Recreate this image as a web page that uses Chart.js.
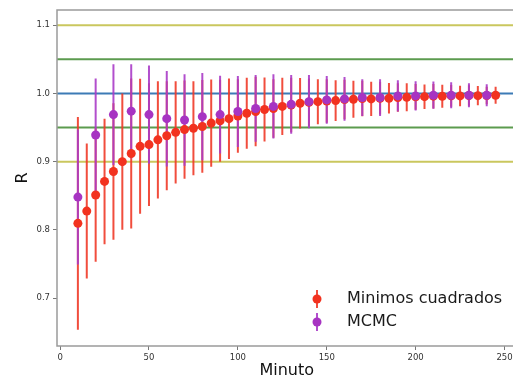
<!DOCTYPE html>
<html>
<head>
<meta charset="utf-8">
<script src="https://cdn.jsdelivr.net/npm/chart.js@4/dist/chart.umd.min.js"></script>
<style>
  html, body { margin: 0; padding: 0; overflow: hidden; background: #fff; width: 513px; height: 378px; }
</style>
</head>
<body>
<canvas id="chart" width="521" height="378"></canvas>
<script>
// Minimos cuadrados (every 5 min)
const minutosLS = [10, 15, 20, 25, 30, 35, 40, 45, 50, 55, 60, 65, 70, 75, 80, 85, 90, 95, 100, 105,
  110, 115, 120, 125, 130, 135, 140, 145, 150, 155, 160, 165, 170, 175, 180, 185, 190, 195, 200, 205,
  210, 215, 220, 225, 230, 235, 240, 245];
const valoresLS = [0.8095, 0.8275, 0.851, 0.871, 0.8855, 0.900, 0.912, 0.9224, 0.925, 0.932,
  0.938, 0.943, 0.947, 0.949, 0.9516, 0.9565, 0.960, 0.963, 0.967, 0.971,
  0.9735, 0.9764, 0.978, 0.981, 0.983, 0.9857, 0.987, 0.988, 0.989, 0.9895,
  0.991, 0.9915, 0.9925, 0.992, 0.993, 0.993, 0.994, 0.9945, 0.995, 0.9953,
  0.996, 0.9959, 0.9965, 0.9964, 0.997, 0.9968, 0.997, 0.9974];
const erroresLS = [0.156, 0.099, 0.098, 0.092, 0.100, 0.100, 0.110, 0.099, 0.090, 0.086,
  0.080, 0.075, 0.072, 0.069, 0.068, 0.064, 0.060, 0.059, 0.054, 0.052,
  0.051, 0.047, 0.043, 0.042, 0.040, 0.037, 0.035, 0.033, 0.032, 0.030,
  0.029, 0.027, 0.026, 0.025, 0.024, 0.0225, 0.021, 0.0205, 0.019, 0.018,
  0.018, 0.017, 0.016, 0.015, 0.015, 0.014, 0.013, 0.0125];

// MCMC (every 10 min)
const minutosMCMC = [10, 20, 30, 40, 50, 60, 70, 80, 90, 100, 110, 120, 130, 140, 150, 160,
  170, 180, 190, 200, 210, 220, 230, 240];
const valoresMCMC = [0.848, 0.939, 0.969, 0.974, 0.969, 0.963, 0.961, 0.966, 0.969, 0.9735,
  0.978, 0.981, 0.984, 0.988, 0.9905, 0.992, 0.994, 0.994, 0.9964, 0.9964,
  0.9974, 0.9974, 0.9974, 0.9974];
const erroresMCMC = [0.099, 0.083, 0.074, 0.069, 0.072, 0.070, 0.067, 0.064, 0.057, 0.052,
  0.049, 0.047, 0.043, 0.039, 0.035, 0.032, 0.027, 0.027, 0.023, 0.0215,
  0.020, 0.019, 0.0175, 0.016];

// Reference lines
const lineasRef = [1.1, 1.05, 1.0, 0.95, 0.9];
const coloresRef = ['#cac75e', '#5c9b4f', '#3c7bb6', '#5c9b4f', '#cac75e'];

const xTicks = [0, 50, 100, 150, 200, 250];
const yTicks = [0.7, 0.8, 0.9, 1.0, 1.1];

const font = 'DejaVu Sans';

const puntosLS = minutosLS.map((m, i) => ({ x: m, y: valoresLS[i], err: erroresLS[i] }));
const puntosMCMC = minutosMCMC.map((m, i) => ({ x: m, y: valoresMCMC[i], err: erroresMCMC[i] }));

// reference lines + error bars under the markers, frame and legend on top
const errorBarPlugin = {
  id: 'errorBars',
  beforeDatasetsDraw(chart) {
    const { ctx, chartArea, scales: { x, y } } = chart;
    ctx.save();
    ctx.beginPath();
    ctx.rect(chartArea.left, chartArea.top, chartArea.width, chartArea.height);
    ctx.clip();
    lineasRef.forEach((v, i) => {
      const py = y.getPixelForValue(v);
      ctx.strokeStyle = coloresRef[i];
      ctx.lineWidth = 2;
      ctx.beginPath();
      ctx.moveTo(chartArea.left, py);
      ctx.lineTo(chartArea.right, py);
      ctx.stroke();
    });
    chart.data.datasets.forEach((ds) => {
      ctx.strokeStyle = ds.barColor;
      ctx.lineWidth = 2;
      ds.data.forEach((p) => {
        const px = x.getPixelForValue(p.x);
        ctx.beginPath();
        ctx.moveTo(px, y.getPixelForValue(p.y - p.err));
        ctx.lineTo(px, y.getPixelForValue(p.y + p.err));
        ctx.stroke();
      });
    });
    ctx.restore();
  },
  afterDraw(chart) {
    const { ctx, chartArea } = chart;
    ctx.save();
    // frame
    ctx.strokeStyle = '#9a9a9a';
    ctx.lineWidth = 1.5;
    ctx.strokeRect(chartArea.left, chartArea.top, chartArea.width, chartArea.height);
    // legend
    const rows = [299, 322];
    chart.data.datasets.forEach((ds, i) => {
      const ly = rows[i];
      ctx.strokeStyle = ds.barColor;
      ctx.lineWidth = 2;
      ctx.beginPath();
      ctx.moveTo(317, ly - 9);
      ctx.lineTo(317, ly + 9);
      ctx.stroke();
      ctx.fillStyle = ds.backgroundColor;
      ctx.beginPath();
      ctx.arc(317, ly, 4.5, 0, Math.PI * 2);
      ctx.fill();
      ctx.fillStyle = '#1a1a1a';
      ctx.font = '16px "' + font + '"';
      ctx.textBaseline = 'middle';
      ctx.fillText(ds.label, 347, ly);
    });
    ctx.restore();
  }
};

const ctx = document.getElementById('chart').getContext('2d');
new Chart(ctx, {
  type: 'scatter',
  data: {
    datasets: [
      {
        label: 'Minimos cuadrados',
        data: puntosLS,
        backgroundColor: '#f2321f',
        borderColor: '#f2321f',
        barColor: 'rgba(240, 58, 40, 0.9)',
        pointRadius: 4.5,
        borderWidth: 0,
        order: 2
      },
      {
        label: 'MCMC',
        data: puntosMCMC,
        backgroundColor: '#a734c2',
        borderColor: '#a734c2',
        barColor: 'rgba(170, 60, 200, 0.9)',
        pointRadius: 4.5,
        borderWidth: 0,
        order: 1
      }
    ]
  },
  options: {
    responsive: false,
    animation: false,
    devicePixelRatio: 1,
    layout: { padding: { top: 10, right: 4, left: 0, bottom: 0 } },
    plugins: {
      legend: { display: false },
      tooltip: { enabled: false }
    },
    scales: {
      x: {
        type: 'linear',
        min: -1.75,
        max: 256.75,
        afterBuildTicks: (s) => { s.ticks = xTicks.map((v) => ({ value: v })); },
        afterFit: (s) => { s.height = 32; },
        ticks: { font: { family: font, size: 8.5 }, color: '#333', padding: 3, maxRotation: 0, autoSkip: false },
        grid: { drawOnChartArea: false, drawTicks: true, tickLength: 4, color: '#777' },
        border: { display: false },
        title: { display: true, text: 'Minuto', color: '#111', padding: 0, font: { family: font, size: 16, lineHeight: 0.9 } }
      },
      y: {
        min: 0.6296,
        max: 1.1224,
        afterBuildTicks: (s) => { s.ticks = yTicks.map((v) => ({ value: v })); },
        afterFit: (s) => { s.width = 57; },
        ticks: { font: { family: font, size: 8.5 }, color: '#333', padding: 3, callback: (v) => v.toFixed(1) },
        grid: { drawOnChartArea: false, drawTicks: true, tickLength: 4, color: '#777' },
        border: { display: false },
        title: { display: true, text: 'R', color: '#111', padding: { top: 15, bottom: 0 }, font: { family: font, size: 16, lineHeight: 1 } }
      }
    }
  },
  plugins: [errorBarPlugin]
});
</script>
</body>
</html>
